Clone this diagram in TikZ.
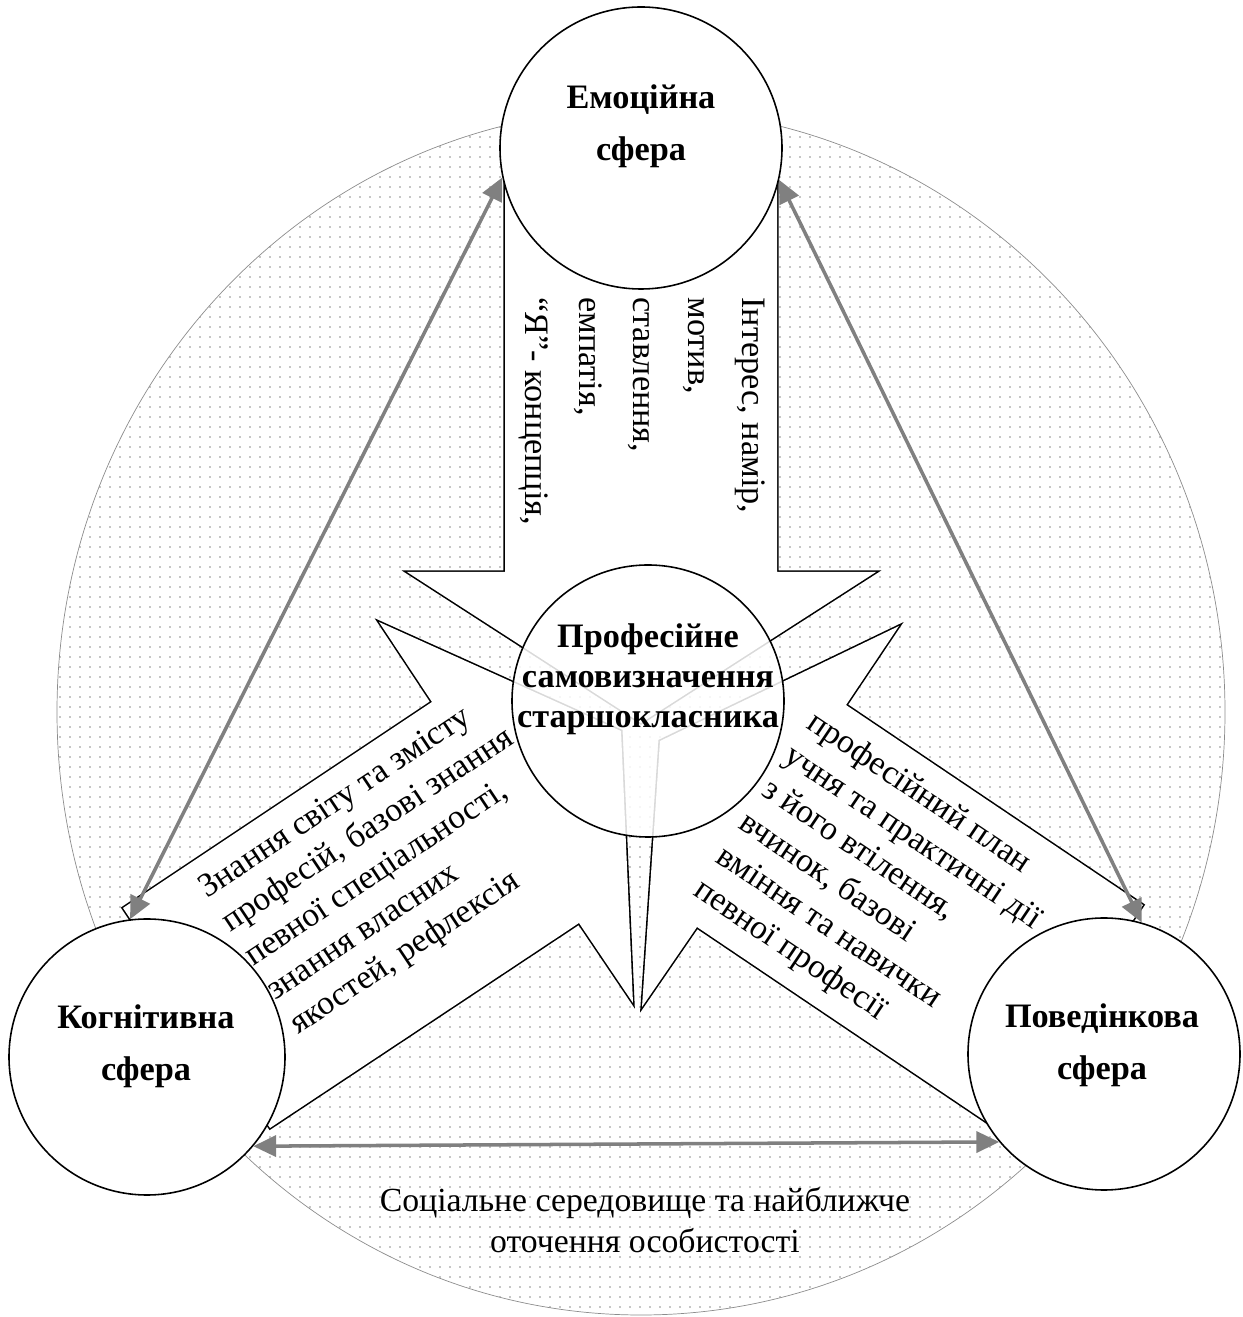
\documentclass[tikz,border=0pt]{standalone}
\usepackage{fontspec}
\setmainfont{Liberation Serif}
\usetikzlibrary{arrows.meta,patterns.meta}

\begin{document}
\begin{tikzpicture}[
  sphere/.style={circle,draw,line width=0.9pt,fill=white,inner sep=0pt},
  title/.style={font=\fontsize{19.5}{29.6}\selectfont\bfseries,align=center,inner sep=0pt},
  coretitle/.style={title,font=\fontsize{19.5}{22.8}\selectfont\bfseries},
  note/.style={font=\fontsize{19.2}{23}\selectfont,align=left,inner sep=0pt},
  link/.style={gray,line width=2pt,{Triangle[length=13pt,width=12pt]}-{Triangle[length=13pt,width=12pt]}}]
  \useasboundingbox (0,0) rectangle (24.86,26.34);
  \draw[gray!90,pattern={Dots[distance=0.2cm,radius=0.55pt]},pattern color=gray!90]
  (12.82,12.10) ellipse [x radius=11.68cm,y radius=12.06cm];
  \path[fill=white,preaction={draw,line width=1.8pt}]
  (10.10,23.54) -- (10.10,14.90) -- (8.14,14.90) -- (12.82,11.88) -- (17.52,14.90)
  -- (15.54,14.90) -- (15.54,23.54) -- cycle
  (5.40,3.78) -- (11.58,7.88) -- (12.66,6.28) -- (12.42,11.72) -- (7.58,13.90)
  -- (8.64,12.30) -- (2.46,8.18) -- cycle
  (22.86,8.24) -- (16.92,12.24) -- (17.98,13.82) -- (13.20,11.52) -- (12.84,6.20)
  -- (13.94,7.80) -- (19.88,3.80) -- cycle;
  \node[sphere,minimum size=5.64cm] (emo) at (12.82,23.38) {};
  \node[sphere,minimum size=5.52cm] (cog) at (2.94,5.20) {};
  \node[sphere,minimum size=5.44cm] (beh) at (22.08,5.26) {};
  \node[sphere,minimum size=5.44cm,fill opacity=0.85] (core) at (12.96,12.32) {};
  \draw[link] (emo.192) -- (cog.97);
  \draw[link] (emo.-13) -- (beh.74);
  \draw[link] (cog.-40) -- (beh.220);
  \node[title] (emotitle) at (12.82,23.82) {Емоційна\\сфера};
  \node[title] (cogtitle) at (2.92,5.42) {Когнітивна\\сфера};
  \node[title] (behtitle) at (22.04,5.44) {Поведінкова\\сфера};
  \node[coretitle] (coretext) at (12.96,12.76) {Професійне\\самовизначення\\старшокласника};
  \node[note,font=\fontsize{19.5}{31}\selectfont,rotate=-90,anchor=west] (emonote) at (12.84,20.40)
  {Інтерес, намір,\\мотив,\\ставлення,\\емпатія,\\“Я”- концепція,};
  \node[note,font=\fontsize{19.2}{23.3}\selectfont,rotate=33.7,anchor=west] (cognote) at (4.97,7.13)
  {Знання світу та змісту\\професій, базові знання\\певної спеціальності,\\знання власних\\якостей, рефлексія};
  \node[note,rotate=-34,anchor=west] (behnote) at (15.06,10.26)
  {професійний план\\учня та практичні дії\\з його втілення,\\вчинок, базові\\вміння та навички\\певної професії};
  \node[note,align=center] (envnote) at (12.90,1.94)
  {Соціальне середовище та найближче\\оточення особистості};
\end{tikzpicture}
\end{document}
